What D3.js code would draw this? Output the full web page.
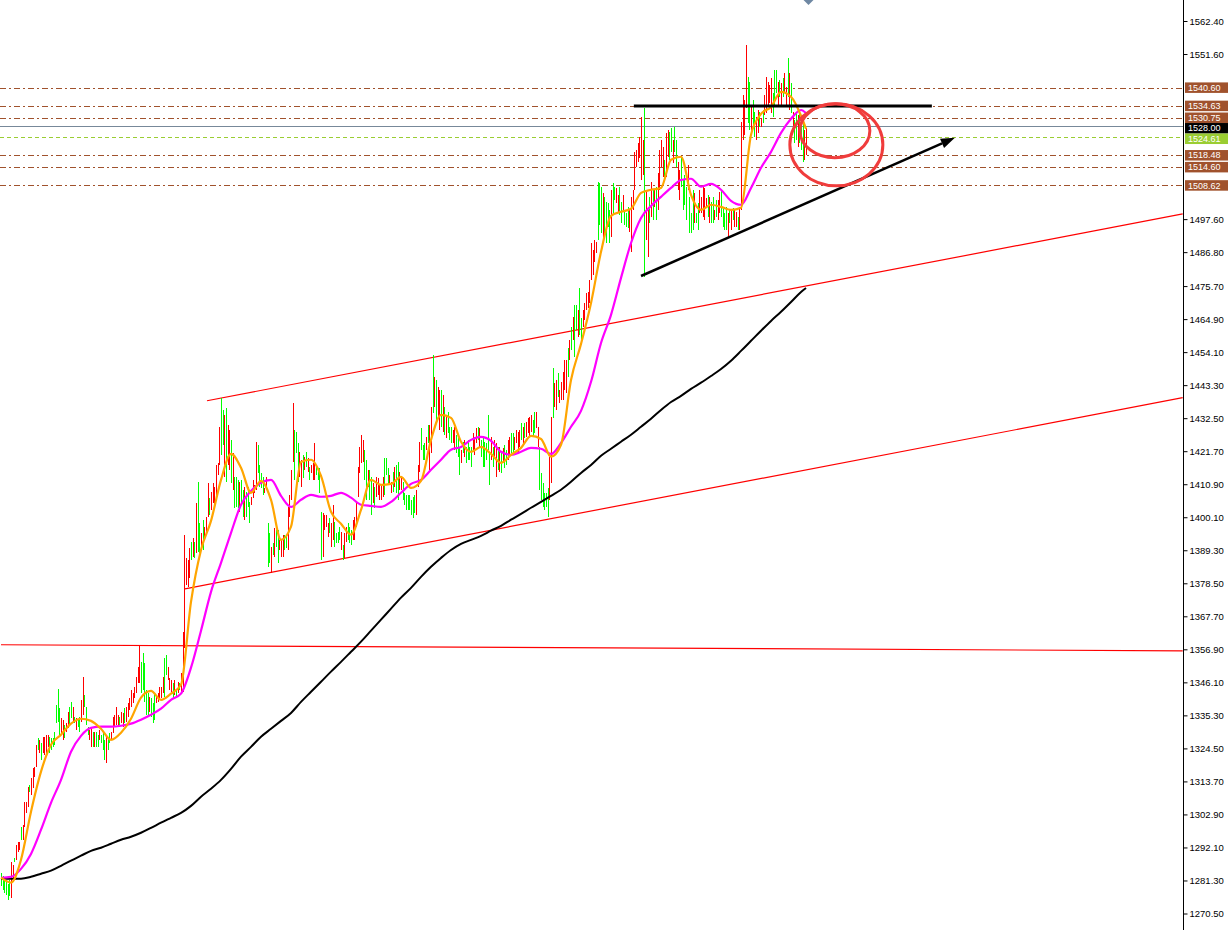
<!DOCTYPE html>
<html><head><meta charset="utf-8">
<script src="https://cdn.jsdelivr.net/npm/d3@7"></script>
<style>html,body{margin:0;padding:0;background:#fff;overflow:hidden;} svg{display:block;}</style>
</head><body>
<svg id="c" width="1230" height="930"></svg>
<script>
// ---------- DATA ----------
const highs = [
1283.8,1282.8,1282.2,1281.5,1280.2,1281.5,1287.4,1286.4,
1288.7,1293.0,1294.0,1294.0,1298.9,1299.5,1307.0,1307.0,
1311.9,1312.6,1314.9,1318.2,1318.5,1325.7,1328.0,1327.3,
1326.3,1328.3,1328.3,1329.0,1329.0,1328.3,1328.0,1328.0,
1330.0,1338.8,1344.0,1337.8,1334.5,1333.9,1332.2,1332.9,
1336.5,1338.1,1339.7,1338.1,1334.8,1334.5,1333.9,1334.8,
1340.4,1347.9,1342.0,1338.1,1331.6,1330.6,1331.2,1329.9,
1329.9,1329.9,1329.0,1330.6,1329.0,1329.6,1327.3,1328.3,
1328.0,1329.6,1329.9,1334.8,1335.5,1338.1,1335.5,1334.8,
1336.5,1336.2,1337.8,1338.1,1339.4,1341.0,1343.7,1342.7,
1344.6,1347.9,1351.2,1358.4,1352.8,1355.8,1352.5,1343.7,
1342.7,1341.4,1341.0,1339.4,1342.7,1342.0,1342.7,1344.6,
1344.6,1347.9,1354.1,1355.1,1351.2,1347.6,1346.9,1346.0,
1346.9,1343.7,1346.3,1346.0,1349.2,1362.6,1394.4,1386.8,
1386.2,1390.1,1392.1,1393.4,1392.1,1404.8,1411.7,1398.3,
1395.0,1399.3,1397.0,1400.2,1411.4,1406.5,1408.4,1411.4,
1410.0,1417.2,1417.9,1429.7,1439.2,1435.2,1433.6,1435.9,
1430.3,1428.7,1425.4,1421.2,1413.3,1413.3,1412.3,1411.7,
1412.3,1409.1,1410.0,1408.4,1410.0,1405.1,1406.8,1412.3,
1410.7,1424.8,1423.8,1417.2,1414.6,1413.3,1409.7,1413.3,
1398.3,1395.0,1390.4,1391.7,1396.6,1396.0,1396.0,1392.7,
1392.7,1394.4,1394.4,1393.7,1403.5,1407.4,1415.6,1437.5,
1428.7,1428.0,1424.4,1421.5,1418.9,1420.5,1419.9,1421.5,
1419.5,1416.6,1417.2,1417.9,1424.4,1416.6,1416.3,1416.3,
1401.9,1401.6,1400.9,1400.9,1398.3,1399.9,1398.3,1404.2,
1398.6,1395.0,1395.3,1397.0,1395.3,1391.1,1395.0,1397.0,
1398.3,1397.0,1396.0,1399.3,1400.2,1404.8,1416.6,1423.1,
1427.1,1425.4,1422.2,1418.9,1415.6,1415.6,1413.3,1411.4,
1410.0,1413.3,1413.0,1410.7,1410.7,1413.3,1419.5,1419.5,
1416.3,1414.0,1411.7,1415.0,1416.6,1417.2,1418.2,1415.0,
1413.3,1411.7,1408.1,1407.4,1407.4,1407.4,1405.8,1406.8,
1407.4,1409.1,1417.2,1424.8,1429.3,1423.8,1424.4,1426.4,
1430.3,1430.3,1436.2,1453.2,1446.0,1445.0,1442.8,1441.8,
1441.8,1440.1,1436.2,1433.6,1434.6,1429.7,1429.7,1428.7,
1429.7,1427.1,1426.4,1423.1,1422.2,1424.8,1425.4,1423.1,
1425.4,1423.1,1423.1,1427.7,1426.4,1429.3,1429.7,1429.3,
1425.4,1426.4,1424.8,1424.4,1433.6,1421.2,1426.4,1423.1,
1425.4,1424.4,1423.1,1423.1,1421.2,1422.8,1423.8,1422.2,
1425.4,1426.4,1427.7,1427.7,1426.4,1428.7,1428.0,1428.7,
1431.0,1429.7,1431.0,1431.3,1432.6,1432.9,1433.6,1432.0,
1434.6,1434.6,1429.7,1423.1,1414.6,1411.4,1408.1,1408.1,
1409.7,1419.9,1432.9,1449.0,1444.1,1445.0,1447.3,1441.8,
1444.4,1447.7,1451.6,1451.6,1455.5,1458.1,1462.4,1465.6,
1469.6,1469.6,1467.9,1475.1,1465.3,1467.9,1470.2,1473.5,
1473.8,1477.7,1489.8,1487.6,1490.8,1490.2,1509.8,1509.5,
1508.2,1506.2,1504.9,1503.2,1502.9,1500.6,1507.2,1509.5,
1508.2,1507.8,1505.5,1508.2,1503.2,1505.5,1500.6,1499.6,
1501.6,1500.6,1504.9,1507.2,1519.6,1520.3,1522.5,1524.5,
1531.0,1523.5,1534.0,1507.2,1500.6,1504.9,1509.8,1507.2,
1507.2,1508.2,1512.7,1520.3,1523.5,1521.2,1517.0,1525.8,
1526.8,1526.1,1527.4,1523.5,1527.8,1523.5,1516.3,1513.7,
1518.0,1510.4,1512.1,1508.2,1515.3,1504.9,1499.6,1507.2,
1506.2,1499.6,1502.9,1507.2,1504.9,1508.2,1507.8,1504.6,
1505.5,1504.9,1503.2,1504.9,1500.6,1503.9,1503.9,1506.5,
1507.2,1501.6,1499.6,1501.6,1499.6,1500.6,1500.6,1501.3,
1500.6,1500.0,1498.3,1501.6,1529.4,1538.2,1536.6,1554.6,
1544.1,1542.5,1534.3,1536.6,1532.7,1531.0,1533.3,1532.7,
1530.7,1533.3,1538.2,1544.1,1542.5,1541.5,1543.8,1538.9,
1546.4,1546.4,1542.5,1543.1,1542.2,1543.8,1545.4,1540.9,
1550.3,1545.4,1542.2,1532.7,1530.1,1532.4,1531.7,1532.7,
1530.1,1530.1,1526.8,1527.4];

const lows = [
1279.6,1278.3,1277.3,1276.6,1275.0,1276.3,1275.7,1281.5,
1287.4,1288.1,1290.7,1291.4,1294.6,1294.6,1298.9,1303.4,
1305.4,1310.3,1309.3,1311.6,1315.2,1318.5,1324.1,1323.1,
1320.8,1323.1,1322.4,1321.8,1325.0,1323.1,1324.1,1325.0,
1325.7,1332.9,1333.2,1329.0,1329.0,1327.3,1328.0,1329.9,
1331.2,1332.2,1334.5,1332.9,1332.9,1330.6,1331.6,1329.9,
1333.2,1335.5,1338.1,1332.2,1329.0,1327.3,1325.0,1325.0,
1325.0,1325.0,1325.0,1327.3,1326.3,1324.1,1320.8,1319.8,
1324.1,1326.3,1327.3,1329.6,1331.6,1332.2,1331.6,1331.6,
1332.9,1331.6,1332.9,1333.2,1334.8,1337.1,1338.1,1339.4,
1341.0,1342.7,1346.0,1346.0,1342.7,1343.7,1339.7,1335.5,
1335.5,1336.5,1334.8,1332.9,1333.9,1339.4,1339.7,1340.4,
1341.0,1342.7,1341.4,1348.6,1346.9,1343.7,1343.0,1341.0,
1342.0,1341.4,1342.7,1343.7,1343.0,1343.0,1357.4,1378.0,
1377.3,1380.3,1386.2,1387.2,1386.8,1388.5,1388.8,1388.5,
1390.4,1389.5,1393.7,1395.3,1400.2,1400.9,1402.5,1404.8,
1403.5,1407.4,1414.0,1417.2,1420.5,1423.8,1413.3,1411.7,
1417.2,1415.6,1411.4,1409.1,1403.2,1403.5,1403.2,1401.9,
1404.8,1400.2,1399.3,1400.2,1403.5,1398.3,1404.2,1406.5,
1408.1,1409.1,1414.6,1410.0,1409.7,1407.4,1408.1,1409.1,
1383.9,1385.2,1381.9,1387.8,1387.2,1390.4,1385.2,1389.5,
1387.2,1387.2,1389.5,1390.1,1389.5,1400.2,1405.8,1418.2,
1412.3,1421.2,1411.7,1413.3,1410.0,1413.0,1415.6,1416.6,
1414.9,1412.3,1414.6,1412.3,1412.3,1414.0,1412.3,1408.1,
1386.2,1387.2,1396.0,1397.0,1393.7,1395.0,1390.4,1392.7,
1390.4,1391.7,1391.7,1392.7,1389.5,1386.2,1386.8,1392.1,
1392.7,1391.7,1391.1,1392.7,1392.7,1397.0,1406.8,1414.6,
1417.9,1418.2,1412.3,1405.8,1410.0,1405.8,1400.9,1404.8,
1403.2,1406.8,1407.4,1405.8,1405.8,1406.8,1407.4,1414.0,
1410.7,1410.7,1408.1,1408.4,1410.0,1408.1,1405.8,1409.1,
1409.1,1405.8,1404.2,1402.5,1402.5,1402.5,1400.9,1399.9,
1401.6,1400.9,1410.0,1415.0,1422.2,1418.9,1418.9,1422.2,
1424.4,1415.6,1421.2,1434.2,1436.2,1432.0,1433.0,1428.7,
1429.7,1428.0,1427.1,1426.1,1427.7,1425.4,1424.4,1424.4,
1422.2,1421.2,1419.9,1414.0,1417.9,1421.2,1419.9,1417.9,
1418.9,1418.9,1416.6,1422.2,1420.5,1424.4,1425.4,1422.8,
1419.9,1416.6,1416.6,1418.9,1422.2,1410.7,1418.9,1416.6,
1419.9,1413.3,1415.6,1415.0,1414.6,1417.9,1416.3,1417.2,
1418.9,1420.5,1421.2,1420.5,1422.2,1424.4,1421.2,1423.1,
1425.4,1424.4,1426.1,1426.4,1427.7,1426.4,1428.0,1426.4,
1427.7,1429.3,1423.1,1409.1,1405.8,1403.5,1402.5,1403.5,
1400.2,1405.8,1411.4,1432.6,1436.2,1435.2,1439.5,1437.5,
1438.5,1438.5,1441.8,1440.8,1446.0,1451.6,1454.9,1458.1,
1452.6,1461.4,1459.1,1459.8,1457.1,1462.4,1464.7,1467.9,
1468.6,1470.2,1477.7,1479.4,1483.6,1486.6,1490.8,1495.7,
1493.1,1490.8,1493.1,1489.8,1495.1,1489.8,1491.8,1499.0,
1503.9,1502.9,1499.6,1499.0,1496.4,1500.6,1495.7,1495.1,
1494.7,1493.4,1486.9,1500.6,1507.2,1514.7,1516.3,1517.6,
1510.4,1512.1,1478.7,1490.8,1485.3,1496.4,1498.3,1497.4,
1501.6,1497.4,1500.6,1507.2,1514.7,1511.4,1510.4,1511.4,
1518.0,1517.0,1519.6,1516.0,1519.6,1514.7,1507.2,1503.9,
1508.2,1500.6,1502.3,1497.4,1507.2,1493.1,1493.1,1494.1,
1496.4,1496.4,1494.1,1499.6,1499.6,1498.3,1497.4,1501.6,
1498.3,1496.4,1496.4,1496.4,1497.4,1498.3,1497.4,1499.6,
1498.3,1495.1,1494.1,1494.1,1491.8,1496.4,1494.1,1497.4,
1495.1,1495.1,1494.1,1494.1,1500.6,1523.5,1525.2,1534.0,
1529.1,1526.8,1525.8,1527.8,1524.5,1523.5,1525.8,1527.8,
1527.8,1529.1,1531.7,1532.3,1534.3,1535.6,1532.3,1531.0,
1534.3,1538.9,1534.3,1537.6,1534.3,1537.6,1538.9,1534.3,
1537.6,1533.3,1532.3,1527.8,1522.5,1523.5,1521.2,1522.5,
1520.3,1516.3,1517.0,1518.6];

// bar direction: r = red, g = green
const barDir = (
"ggggggrr"+"grrrgrrr"+"rgrrrrgr"+"grrrrggg"+"ggggrrgr"+"rggrgrgg"+"rrgggrrg"+"rggrgggr"+
"ggrrrrrg"+"rrgrrrrr"+"rrrrgggg"+"grgggrrr"+"rrggrrrg"+"rgrgrrrr"+"rrgrgrgg"+"rgrrrgrr"+
"rrrrggrg"+"rrgrgggr"+"ggrgggrr"+"rrggggrr"+"ggrgrggr"+"rrggrrrr"+"gggrrgrg"+"rgrrrggg"+
"grrrrgrr"+"ggggrgrr"+"gggrrrrr"+"rrggrggr"+"grrrrrgg"+"grrgrggr"+"rggggggg"+"grrrgggr"+
"grrgrgrr"+"grgrgggr"+"rgggrgrg"+"gggrrrgr"+"ggggggrg"+"rrgrgrgg"+"rrggrrrr"+"grgrrrrg"+
"grrggggg"+"grrgrrgr"+"rrrrgrgr"+"ggrggrrr"+"rrrrrrgg"+"grggggrg"+"grrggrgg"+"grrrrrrr"+
"rrgrrgrg"+"rgrrrrgr"+"rggrggrr"+"ggggrggg"+"rggrrrrr"+"grggrgrr"+"ggggrgrg"+"rrgrrrrr"+
"ggrggrrg"+"rgrrrrrg"+"ggrgrgrr"+"grgrggrg"+"ggrr").split("");

// moving averages sampled every 6 bars (+ last bar)
const maIndex = d3.range(0, 481, 6).concat([483]);
const maFast = [1282.2,1280.6,1288.1,1303.8,1316.9,1325.7,1329.0,1332.6,1334.2,1333.5,1330.9,1327.3,1329.6,1334.2,1341.1,1343.3,1340.4,1342.4,1345.3,1372.4,1389.4,1398.9,1412.3,1420.8,1416.3,1408.1,1412.0,1405.8,1392.7,1397.0,1418.2,1418.9,1413.6,1401.9,1398.0,1394.4,1402.5,1412.3,1410.7,1411.0,1413.3,1409.7,1412.0,1425.4,1433.6,1432.6,1424.8,1421.5,1423.1,1420.8,1417.9,1420.5,1422.8,1426.7,1425.7,1419.9,1423.8,1445.0,1456.8,1470.2,1486.9,1498.7,1500.0,1501.0,1506.2,1507.2,1507.8,1517.0,1518.0,1505.5,1500.6,1502.3,1501.6,1500.6,1501.3,1525.2,1532.0,1534.3,1539.2,1537.6,1531.4,1527.1];
const maMid = [1282.2,1282.5,1285.1,1290.0,1297.9,1306.7,1314.2,1323.4,1328.6,1331.2,1331.6,1331.6,1331.9,1332.6,1333.9,1335.5,1337.5,1340.4,1342.4,1350.9,1363.0,1375.7,1385.2,1395.0,1404.2,1408.7,1411.4,1412.3,1407.1,1403.5,1405.8,1407.4,1406.8,1407.1,1408.1,1406.5,1404.2,1403.8,1403.5,1405.1,1408.1,1411.0,1412.3,1415.6,1418.9,1422.2,1423.1,1425.4,1426.4,1425.1,1421.5,1420.5,1421.5,1422.8,1422.5,1420.8,1424.4,1429.7,1434.9,1444.4,1457.1,1466.3,1478.4,1489.8,1498.0,1501.9,1504.9,1507.8,1510.4,1510.8,1508.2,1509.1,1507.2,1503.6,1502.3,1507.8,1514.4,1519.6,1525.8,1530.4,1533.3,1532.3];
const maSlow = [1281.9,1281.9,1281.9,1282.5,1283.5,1284.5,1286.1,1287.8,1289.4,1291.0,1292.0,1293.3,1294.6,1295.6,1296.9,1298.5,1300.2,1301.8,1303.4,1305.7,1308.7,1311.3,1314.2,1317.8,1321.8,1325.0,1328.3,1330.9,1333.5,1336.1,1339.7,1343.0,1346.3,1349.6,1352.8,1356.1,1359.4,1363.0,1366.6,1370.2,1373.8,1377.0,1380.6,1383.9,1386.8,1389.4,1391.4,1392.7,1394.0,1395.7,1397.3,1399.3,1401.2,1403.2,1405.1,1407.1,1409.1,1411.7,1414.6,1417.2,1420.2,1422.5,1424.8,1427.1,1429.7,1432.3,1435.2,1437.8,1439.8,1442.1,1444.1,1446.3,1448.6,1451.3,1454.5,1457.8,1461.1,1464.3,1467.3,1470.5,1473.8,1475.1];

// price axis tick labels (those hidden under price boxes are not shown)
const axisTicks = [1562.40,1551.60,1497.60,1486.80,1475.70,1464.90,1454.10,1443.30,1432.50,1421.70,1410.90,1400.10,1389.30,1378.50,1367.70,1356.90,1346.10,1335.30,1324.50,1313.70,1302.90,1292.10,1281.30,1270.50];

// horizontal levels
const levelPrices = [1540.60,1534.63,1530.75,1518.48,1514.60,1508.62];
const bidPrice = 1528.00;
const alertPrice = 1524.61;

// trend lines: [bar index start, price start, bar index end, price end]
const redLines = [[0,1358.4,709,1356.4],[123.6,1438.2,709,1499.3],[110.4,1376.7,709,1439.2]];
const topLine = [379.7,1534.63,558.5,1534.63];
const arrowLine = [384,1479.0,572.3,1524.2];
// ellipses: [center bar index, center price, radius in bars, radius in price]
const ellipses = [[500.3,1526.5,21,8.8],[501.2,1521.9,27.9,13.4]];
const shiftIndex = 484.5;
const lastBar = 709;

// ---------- DRAW ----------
const W = 1230, H = 930, axisX = 1183.5;
const svg = d3.select("#c");
svg.append("rect").attr("width",W).attr("height",H).attr("fill","#fff");
const x = d3.scaleLinear().domain([0,lastBar]).range([1,1182.7]);
const y = d3.scaleLinear().domain([1270.5,1562.4]).range([913.5,21]);
const plot = svg.append("g");

// level lines
plot.selectAll(".lvl").data(levelPrices).join("line")
  .attr("x1",0).attr("x2",axisX).attr("y1",d=>Math.round(y(d))+0.5).attr("y2",d=>Math.round(y(d))+0.5)
  .attr("stroke","#a0522d").attr("stroke-width",1).attr("stroke-dasharray","6,3,2,3");
plot.append("line").attr("x1",0).attr("x2",axisX).attr("y1",Math.round(y(bidPrice))+0.5).attr("y2",Math.round(y(bidPrice))+0.5)
  .attr("stroke","#778899").attr("stroke-width",1);
plot.append("line").attr("x1",0).attr("x2",axisX).attr("y1",Math.round(y(alertPrice))+0.5).attr("y2",Math.round(y(alertPrice))+0.5)
  .attr("stroke","#9acd32").attr("stroke-width",1).attr("stroke-dasharray","4,3");

// red trend lines
plot.selectAll(".rl").data(redLines).join("line")
  .attr("x1",d=>x(d[0])).attr("y1",d=>y(d[1])).attr("x2",d=>x(d[2])).attr("y2",d=>y(d[3]))
  .attr("stroke","#ff0000").attr("stroke-width",1.2);

// bars
const bars = d3.range(highs.length);
plot.append("g").attr("shape-rendering","crispEdges").selectAll("line").data(bars).join("line")
  .attr("x1",i=>Math.round(x(i))+0.5).attr("x2",i=>Math.round(x(i))+0.5)
  .attr("y1",i=>y(highs[i])).attr("y2",i=>y(lows[i]))
  .attr("stroke",i=>barDir[i]==="r"?"#ff0000":"#00ff00").attr("stroke-width",1);

// moving averages
function maLine(vals,color,w){
  const gen = d3.line().x((d,k)=>x(maIndex[k])).y(d=>y(d)).curve(d3.curveMonotoneX);
  plot.append("path").attr("d",gen(vals)).attr("fill","none").attr("stroke",color).attr("stroke-width",w).attr("stroke-linejoin","round");
}
maLine(maSlow,"#000000",2);
maLine(maMid,"#ff00ff",2.2);
maLine(maFast,"#ffa500",2.2);

// black horizontal line
plot.append("line").attr("x1",x(topLine[0])).attr("y1",y(topLine[1])).attr("x2",x(topLine[2])).attr("y2",y(topLine[3]))
  .attr("stroke","#000").attr("stroke-width",3);

// arrow line
const ax1=x(arrowLine[0]), ay1=y(arrowLine[1]), ax2=x(arrowLine[2]), ay2=y(arrowLine[3]);
const ang = Math.atan2(ay2-ay1, ax2-ax1);
const hl = 14, hw = 5;
const bx = ax2 - hl*Math.cos(ang), by = ay2 - hl*Math.sin(ang);
plot.append("line").attr("x1",ax1).attr("y1",ay1).attr("x2",bx).attr("y2",by).attr("stroke","#000").attr("stroke-width",2.5);
plot.append("path").attr("d",`M${ax2},${ay2}L${bx - hw*Math.sin(ang)},${by + hw*Math.cos(ang)}L${bx + hw*Math.sin(ang)},${by - hw*Math.cos(ang)}Z`).attr("fill","#000");

// ellipses
plot.selectAll(".el").data(ellipses).join("ellipse")
  .attr("cx",d=>x(d[0])).attr("cy",d=>y(d[1]))
  .attr("rx",d=>x(d[2])-x(0)).attr("ry",d=>y(0)-y(d[3]))
  .attr("fill","none").attr("stroke","#f03c3c").attr("stroke-width",3);

// chart shift marker
const sx = x(shiftIndex);
svg.append("path").attr("d",`M${sx-5},0L${sx+5},0L${sx},5Z`).attr("fill","#6f88a3");

// axis
svg.append("line").attr("x1",axisX).attr("x2",axisX).attr("y1",0).attr("y2",H).attr("stroke","#000").attr("stroke-width",1);
const ag = svg.append("g").attr("transform",`translate(${axisX},0)`)
  .call(d3.axisRight(y).tickValues(axisTicks).tickSize(4).tickPadding(2).tickFormat(d3.format(".2f")));
ag.select(".domain").remove();
ag.selectAll("text").attr("font-family","'Liberation Sans', Arial, sans-serif").attr("font-size","9.5px").attr("fill","#000");
ag.selectAll("line").attr("stroke","#000");

// price labels (stacked so they do not overlap, like the terminal does)
const boxes = levelPrices.map(v=>({v,fill:"#a0522d"}))
  .concat([{v:bidPrice,fill:"#000"},{v:alertPrice,fill:"#9acd32"}])
  .sort((a,b)=>b.v-a.v);
const minGap = 10.5;
let prev = -Infinity;
boxes.forEach(b=>{ b.cy = Math.max(y(b.v), prev + minGap); prev = b.cy; });
boxes.forEach(b=>{
  const g = svg.append("g");
  g.append("rect").attr("x",1185).attr("y",b.cy-5.25).attr("width",43).attr("height",10.5).attr("fill",b.fill);
  g.append("text").attr("x",1188).attr("y",b.cy).attr("dy","0.35em").text(b.v.toFixed(2))
    .attr("font-family","'Liberation Sans', Arial, sans-serif").attr("font-size","9px").attr("fill","#fff");
});
</script>
</body></html>
